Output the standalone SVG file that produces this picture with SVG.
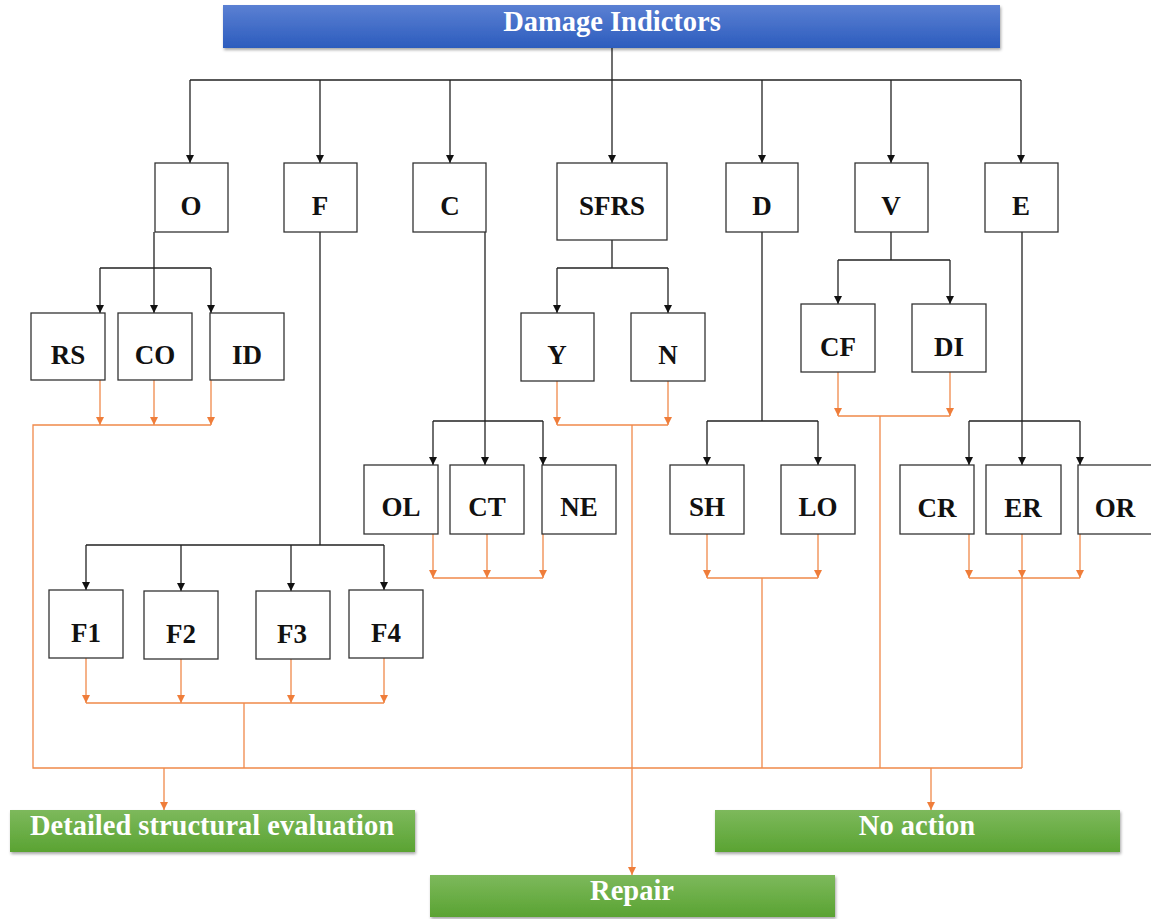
<svg xmlns="http://www.w3.org/2000/svg" width="1151" height="919" viewBox="0 0 1151 919">
<defs>
<linearGradient id="gBlue" x1="0" y1="0" x2="0" y2="1"><stop offset="0" stop-color="#5b80d3"/><stop offset="1" stop-color="#2c5cbd"/></linearGradient>
<linearGradient id="gGreen" x1="0" y1="0" x2="0" y2="1"><stop offset="0" stop-color="#7db95c"/><stop offset="1" stop-color="#5aa332"/></linearGradient>
<filter id="sh" x="-5%" y="-20%" width="110%" height="150%"><feDropShadow dx="1" dy="2" stdDeviation="1.5" flood-color="#000" flood-opacity="0.35"/></filter>
<marker id="ab" viewBox="0 0 10 10" refX="10" refY="5" markerWidth="8" markerHeight="8" markerUnits="userSpaceOnUse" orient="auto"><path d="M0,0 L10,5 L0,10 Z" fill="#111"/></marker>
<marker id="ao" viewBox="0 0 10 10" refX="10" refY="5" markerWidth="8" markerHeight="8" markerUnits="userSpaceOnUse" orient="auto"><path d="M0,0 L10,5 L0,10 Z" fill="#ef7d3a"/></marker>
</defs>
<style>
.n rect{fill:#fff;stroke:#333;stroke-width:1.3}
.n text{font-family:"Liberation Serif",serif;font-weight:bold;font-size:27px;fill:#111;text-anchor:middle}
.b text{font-family:"Liberation Serif",serif;font-weight:bold;font-size:28.5px;fill:#fff;text-anchor:middle}
.k{fill:none;stroke:#222;stroke-width:1.3}
.ka{fill:none;stroke:#222;stroke-width:1.3;marker-end:url(#ab)}
.o{fill:none;stroke:#f0894a;stroke-width:1.3}
.oa{fill:none;stroke:#f0894a;stroke-width:1.3;marker-end:url(#ao)}
</style>
<rect width="1151" height="919" fill="#fff"/>

<g id="connectors">
<path class="k" d="M612,48 V80 M190,80 H1021"/>
<path class="ka" d="M190,80 V163"/><path class="ka" d="M320,80 V163"/><path class="ka" d="M450,80 V163"/><path class="ka" d="M612,80 V163"/><path class="ka" d="M762,80 V163"/><path class="ka" d="M891,80 V163"/><path class="ka" d="M1021,80 V163"/>
<path class="k" d="M154,232 V268 M100,268 H211"/>
<path class="ka" d="M100,268 V313"/><path class="ka" d="M154,268 V313"/><path class="ka" d="M211,268 V313"/>
<path class="k" d="M320,232 V545 M86,545 H384"/>
<path class="ka" d="M86,545 V590"/><path class="ka" d="M181,545 V591"/><path class="ka" d="M291,545 V591"/><path class="ka" d="M384,545 V590"/>
<path class="k" d="M485,232 V421 M433,421 H543"/>
<path class="ka" d="M433,421 V465"/><path class="ka" d="M485,421 V465"/><path class="ka" d="M543,421 V465"/>
<path class="k" d="M612,240 V268 M557,268 H668"/>
<path class="ka" d="M557,268 V313"/><path class="ka" d="M668,268 V313"/>
<path class="k" d="M762,232 V421 M707,421 H818"/>
<path class="ka" d="M707,421 V465"/><path class="ka" d="M818,421 V465"/>
<path class="k" d="M891,232 V260 M838,260 H950"/>
<path class="ka" d="M838,260 V304"/><path class="ka" d="M950,260 V304"/>
<path class="k" d="M1022,232 V421 M969,421 H1080"/>
<path class="ka" d="M969,421 V465"/><path class="ka" d="M1022,421 V465"/><path class="ka" d="M1080,421 V465"/>

<path class="oa" d="M100,380 V425"/><path class="oa" d="M154,380 V425"/><path class="oa" d="M211,380 V425"/>
<path class="o" d="M211,425 H33 V768 H1022"/>
<path class="oa" d="M86,658 V703"/><path class="oa" d="M181,659 V703"/><path class="oa" d="M291,659 V703"/><path class="oa" d="M384,658 V703"/>
<path class="o" d="M86,703 H384 M244,703 V768"/>
<path class="oa" d="M433,534 V578"/><path class="oa" d="M487,534 V578"/><path class="oa" d="M543,534 V578"/>
<path class="o" d="M433,578 H543"/>
<path class="oa" d="M557,381 V425"/><path class="oa" d="M668,381 V425"/>
<path class="o" d="M557,425 H668"/>
<path class="oa" d="M632,425 V875"/>
<path class="oa" d="M707,534 V578"/><path class="oa" d="M818,534 V578"/>
<path class="o" d="M707,578 H818 M762,578 V768"/>
<path class="oa" d="M838,372 V416"/><path class="oa" d="M950,372 V416"/>
<path class="o" d="M838,416 H950 M880,416 V768"/>
<path class="oa" d="M969,534 V578"/><path class="oa" d="M1022,534 V578"/><path class="oa" d="M1080,534 V578"/>
<path class="o" d="M969,578 H1080 M1022,578 V768"/>
<path class="oa" d="M164,768 V810"/>
<path class="oa" d="M931,768 V810"/>
</g>

<g id="header" class="b"><rect x="223" y="5" width="777" height="43" fill="url(#gBlue)" filter="url(#sh)"/><text x="612" y="31">Damage Indictors</text></g>

<g id="n-O" class="n"><rect x="155" y="163" width="73" height="69"/><text x="191" y="215">O</text></g>
<g id="n-F" class="n"><rect x="284" y="163" width="73" height="69"/><text x="320" y="215">F</text></g>
<g id="n-C" class="n"><rect x="413" y="163" width="73" height="69"/><text x="450" y="215">C</text></g>
<g id="n-SFRS" class="n"><rect x="557" y="163" width="110" height="77"/><text x="612" y="215">SFRS</text></g>
<g id="n-D" class="n"><rect x="726" y="163" width="72" height="69"/><text x="762" y="215">D</text></g>
<g id="n-V" class="n"><rect x="855" y="163" width="73" height="69"/><text x="891" y="215">V</text></g>
<g id="n-E" class="n"><rect x="985" y="163" width="73" height="69"/><text x="1021" y="215">E</text></g>

<g id="n-RS" class="n"><rect x="31" y="313" width="74" height="67"/><text x="68" y="364">RS</text></g>
<g id="n-CO" class="n"><rect x="118" y="313" width="74" height="67"/><text x="155" y="364">CO</text></g>
<g id="n-ID" class="n"><rect x="210" y="313" width="74" height="67"/><text x="247" y="364">ID</text></g>

<g id="n-Y" class="n"><rect x="521" y="313" width="73" height="68"/><text x="557" y="364">Y</text></g>
<g id="n-N" class="n"><rect x="631" y="313" width="74" height="68"/><text x="668" y="364">N</text></g>

<g id="n-CF" class="n"><rect x="801" y="304" width="74" height="68"/><text x="838" y="356">CF</text></g>
<g id="n-DI" class="n"><rect x="912" y="304" width="74" height="68"/><text x="949" y="356">DI</text></g>

<g id="n-OL" class="n"><rect x="364" y="465" width="74" height="69"/><text x="401" y="516">OL</text></g>
<g id="n-CT" class="n"><rect x="450" y="465" width="74" height="69"/><text x="487" y="516">CT</text></g>
<g id="n-NE" class="n"><rect x="542" y="465" width="74" height="69"/><text x="579" y="516">NE</text></g>

<g id="n-SH" class="n"><rect x="670" y="465" width="74" height="69"/><text x="707" y="516">SH</text></g>
<g id="n-LO" class="n"><rect x="781" y="465" width="74" height="69"/><text x="818" y="516">LO</text></g>

<g id="n-CR" class="n"><rect x="900" y="465" width="74" height="69"/><text x="937" y="517">CR</text></g>
<g id="n-ER" class="n"><rect x="986" y="465" width="75" height="69"/><text x="1023" y="517">ER</text></g>
<g id="n-OR" class="n"><rect x="1078" y="465" width="80" height="69"/><text x="1115" y="517">OR</text></g>

<g id="n-F1" class="n"><rect x="49" y="590" width="74" height="68"/><text x="86" y="642">F1</text></g>
<g id="n-F2" class="n"><rect x="144" y="591" width="74" height="68"/><text x="181" y="643">F2</text></g>
<g id="n-F3" class="n"><rect x="256" y="591" width="74" height="68"/><text x="292" y="643">F3</text></g>
<g id="n-F4" class="n"><rect x="349" y="590" width="74" height="68"/><text x="386" y="642">F4</text></g>

<g id="n-detailed" class="b"><rect x="10" y="810" width="405" height="42" fill="url(#gGreen)" filter="url(#sh)"/><text x="212" y="835">Detailed structural evaluation</text></g>
<g id="n-noaction" class="b"><rect x="715" y="810" width="405" height="42" fill="url(#gGreen)" filter="url(#sh)"/><text x="917" y="835">No action</text></g>
<g id="n-repair" class="b"><rect x="430" y="875" width="405" height="42" fill="url(#gGreen)" filter="url(#sh)"/><text x="632" y="900">Repair</text></g>
</svg>
